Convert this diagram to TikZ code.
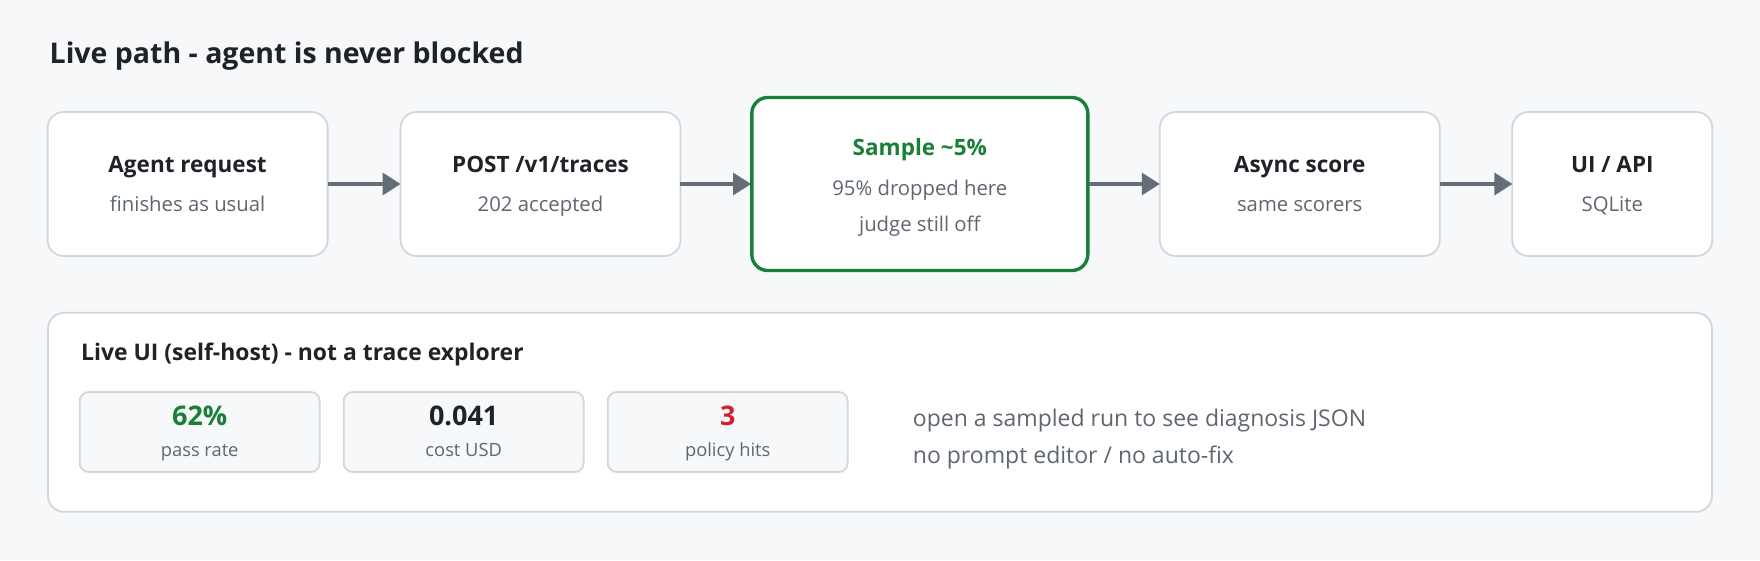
\documentclass[tikz,border=0pt]{standalone}
\usepackage{fontspec}
\setmainfont{Open Sans}
\usetikzlibrary{arrows.meta}
\definecolor{bgcol}{HTML}{F6F8FA}
\definecolor{edgecol}{HTML}{D0D7DE}
\definecolor{inkcol}{HTML}{1F2328}
\definecolor{subcol}{HTML}{5E6670}
\definecolor{okcol}{HTML}{1A7F37}
\definecolor{badcol}{HTML}{CF222E}
\definecolor{arrcol}{HTML}{656D76}
\begin{document}
\begin{tikzpicture}[x=1pt, y=-1pt,
    stage/.style = {draw=edgecol, line width=1.8pt, fill=white, rounded corners=16pt,
                    minimum width=280pt, minimum height=144pt, inner sep=0pt},
    hot/.style = {stage, draw=okcol, line width=3.4pt, minimum width=336pt, minimum height=173pt},
    metric/.style = {draw=edgecol, line width=1.8pt, fill=bgcol, rounded corners=9pt,
                     minimum width=240pt, minimum height=80pt, inner sep=0pt},
    head/.style = {anchor=base, inner sep=0pt, text=inkcol, font=\fontsize{22.5}{26}\selectfont\bfseries},
    sub/.style = {anchor=base, inner sep=0pt, text=subcol, font=\fontsize{20.3}{24}\selectfont},
    value/.style = {head, font=\fontsize{27}{30}\selectfont\bfseries},
    caption/.style = {sub, font=\fontsize{18.3}{22}\selectfont},
    note/.style = {sub, anchor=base west, font=\fontsize{23}{27}\selectfont},
    flow/.style = {draw=arrcol, line width=3.3pt, -{Triangle[length=18pt, width=22pt]}, shorten <=-1pt, shorten >=-1pt}]
    \fill [bgcol] (0, 0) rectangle (1760, 560);
    \node [anchor=base west, inner sep=0pt, text=inkcol, font=\fontsize{28.5}{32}\selectfont\bfseries] (title) at (49.5, 63) {Live path - agent is never blocked};
    % live path
    \node [stage] (agent) at (187.6, 184) {};
    \node [stage] (post) at (540.5, 184) {};
    \node [hot] (sample) at (919.8, 184) {};
    \node [stage] (score) at (1299.7, 184) {};
    \node [stage, minimum width=200pt] (ui) at (1612.3, 184) {};
    \node [head] (agent-h) at (187.6, 172) {Agent request};
    \node [sub] (agent-s) at (187.6, 211) {finishes as usual};
    \node [head] (post-h) at (540.5, 172) {POST /v1/traces};
    \node [sub] (post-s) at (540.5, 211) {202 accepted};
    \node [head, text=okcol] (sample-h) at (919.8, 155) {Sample \textasciitilde5\%};
    \node [sub] (sample-s) at (919.8, 195.5) {95\% dropped here};
    \node [sub] (sample-t) at (919.8, 231) {judge still off};
    \node [head] (score-h) at (1299.7, 172) {Async score};
    \node [sub] (score-s) at (1299.7, 211) {same scorers};
    \node [head] (ui-h) at (1612.3, 172) {UI / API};
    \node [sub] (ui-s) at (1612.3, 211) {SQLite};
    \draw [flow] (agent) -- (post);
    \draw [flow] (post) -- (sample);
    \draw [flow] (sample) -- (score);
    \draw [flow] (score) -- (ui);
    % live ui panel
    \node [draw=edgecol, line width=1.8pt, fill=white, rounded corners=16pt, minimum width=1664pt, minimum height=199pt, inner sep=0pt] (panel) at (880, 412.3) {};
    \node [anchor=base west, inner sep=0pt, text=inkcol, font=\fontsize{22.9}{26}\selectfont\bfseries] (panel-h) at (81, 360) {Live UI (self-host) - not a trace explorer};
    \node [metric] (pass) at (199.7, 432) {};
    \node [metric] (cost) at (463.7, 432) {};
    \node [metric] (hits) at (727.7, 432) {};
    \node [value, text=okcol] (pass-v) at (199.7, 425) {62\%};
    \node [caption] (pass-l) at (199.7, 456) {pass rate};
    \node [value] (cost-v) at (463.7, 425) {0.041};
    \node [caption] (cost-l) at (463.7, 456) {cost USD};
    \node [value, text=badcol] (hits-v) at (727.7, 425) {3};
    \node [caption] (hits-l) at (727.7, 456) {policy hits};
    \node [note] (note-a) at (912.7, 426.7) {open a sampled run to see diagnosis JSON};
    \node [note] (note-b) at (912.7, 463) {no prompt editor / no auto-fix};
\end{tikzpicture}
\end{document}
